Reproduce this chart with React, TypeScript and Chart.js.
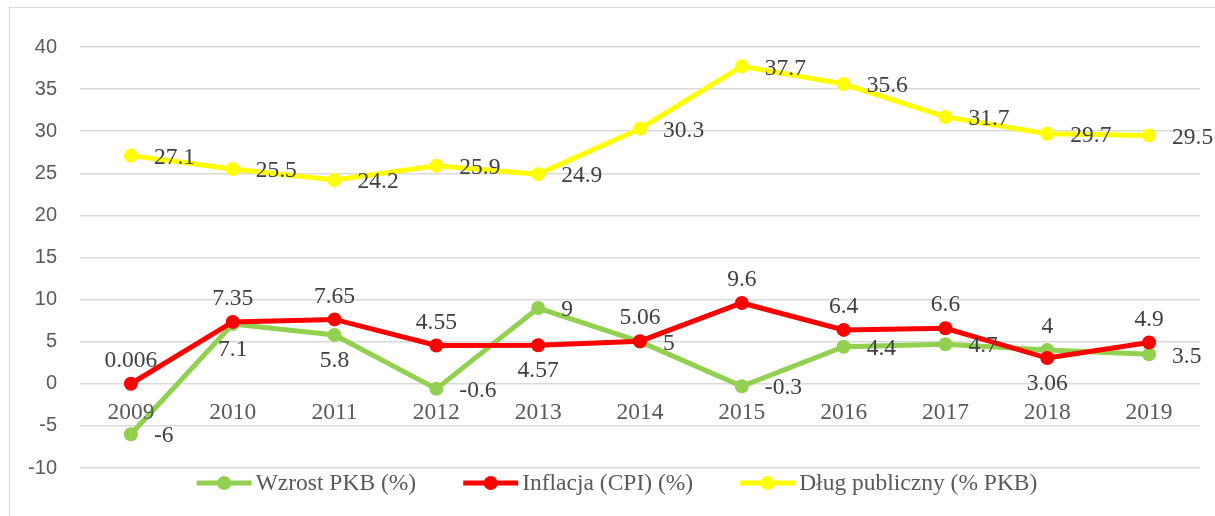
import React, { useEffect, useRef } from "react";
import { Chart, registerables } from "chart.js";
Chart.register(...registerables);

const years = ["2009", "2010", "2011", "2012", "2013", "2014", "2015", "2016", "2017", "2018", "2019"];
const gdpGrowth = [-6, 7.1, 5.8, -0.6, 9, 5, -0.3, 4.4, 4.7, 4, 3.5];
const inflation = [0.006, 7.35, 7.65, 4.55, 4.57, 5.06, 9.6, 6.4, 6.6, 3.06, 4.9];
const publicDebt = [27.1, 25.5, 24.2, 25.9, 24.9, 30.3, 37.7, 35.6, 31.7, 29.7, 29.5];
const seriesNames = ["Wzrost PKB (%)", "Inflacja (CPI) (%)", "Dług publiczny (% PKB)"];
const yMin = -10;
const yMax = 40;
const yStep = 5;
// label placement: r = right, a = above, b = below
const gdpLabelPos = ["r", "b", "b", "r", "r", "r", "r", "r", "r", "a", "r"];
const cpiLabelPos = ["a", "a", "a", "a", "b", "a", "a", "a", "a", "b", "a"];
const debtLabelPos = ["r", "r", "r", "r", "r", "r", "r", "r", "r", "r", "r"];

const COLORS = ["#92d050", "#ff0000", "#ffff00"];
const SERIF = '"Liberation Serif", "Times New Roman", serif';

export default function App() {
  const ref = useRef<HTMLCanvasElement | null>(null);
  useEffect(() => {
    if (!ref.current) return;
    const placements = [gdpLabelPos, cpiLabelPos, debtLabelPos];

    const decor = {
      id: "decor",
      beforeDraw(chart: any) {
        const ctx = chart.ctx;
        ctx.save();
        ctx.strokeStyle = "#d9d9d9";
        ctx.lineWidth = 1;
        ctx.strokeRect(9.5, 7.5, 1400, 700);
        ctx.restore();
      },
      afterDatasetsDraw(chart: any) {
        const ctx = chart.ctx;
        const xs = chart.scales.x;
        const ys = chart.scales.y;
        ctx.save();
        ctx.font = `23.5px ${SERIF}`;
        ctx.fillStyle = "#595959";
        ctx.textAlign = "center";
        ctx.textBaseline = "middle";
        const y0 = ys.getPixelForValue(0);
        years.forEach((yr, i) => {
          ctx.fillText(yr, xs.getPixelForValue(i), y0 + 29);
        });
        ctx.fillStyle = "#404040";
        chart.data.datasets.forEach((ds: any, di: number) => {
          ds.data.forEach((v: number, i: number) => {
            const px = xs.getPixelForValue(i);
            const py = ys.getPixelForValue(v);
            const pos = placements[di][i];
            const txt = String(v);
            if (pos === "r") {
              ctx.textAlign = "left";
              ctx.fillText(txt, px + 23, py + 2);
            } else if (pos === "a") {
              ctx.textAlign = "center";
              ctx.fillText(txt, px, py - 23);
            } else {
              ctx.textAlign = "center";
              ctx.fillText(txt, px, py + 26);
            }
          });
        });
        const lineLen = 55;
        const gapText = 4;
        const gapItem = 47;
        const widths = seriesNames.map((n) => ctx.measureText(n).width);
        const total = widths.reduce((a, w) => a + lineLen + gapText + w, 0) + gapItem * (seriesNames.length - 1);
        let x = 617 - total / 2;
        const ly = 483;
        seriesNames.forEach((n, i) => {
          ctx.strokeStyle = COLORS[i];
          ctx.lineWidth = 5;
          ctx.beginPath();
          ctx.moveTo(x, ly);
          ctx.lineTo(x + lineLen, ly);
          ctx.stroke();
          ctx.fillStyle = COLORS[i];
          ctx.beginPath();
          ctx.arc(x + lineLen / 2, ly, 7, 0, Math.PI * 2);
          ctx.fill();
          ctx.fillStyle = "#595959";
          ctx.textAlign = "left";
          ctx.fillText(n, x + lineLen + gapText, ly + 1);
          x += lineLen + gapText + widths[i] + gapItem;
        });
        ctx.restore();
      },
    };

    const mk = (label: string, data: number[], color: string, order: number) => ({
      label,
      data,
      borderColor: color,
      backgroundColor: color,
      borderWidth: 5,
      pointRadius: 7,
      pointBorderWidth: 0,
      pointBackgroundColor: color,
      tension: 0,
      order,
    });

    const chart = new Chart(ref.current, {
      type: "line",
      data: {
        labels: years,
        datasets: [
          mk(seriesNames[0], gdpGrowth, COLORS[0], 3),
          mk(seriesNames[1], inflation, COLORS[1], 2),
          mk(seriesNames[2], publicDebt, COLORS[2], 1),
        ],
      },
      options: {
        animation: false,
        responsive: true,
        maintainAspectRatio: false,
        layout: { padding: { left: 0, right: 15, top: 47, bottom: 48 } },
        plugins: { legend: { display: false }, tooltip: { enabled: false } },
        scales: {
          x: { type: "category", display: false, offset: true },
          y: {
            min: yMin,
            max: yMax,
            ticks: {
              stepSize: yStep,
              padding: 23,
              color: "#595959",
              font: { family: '"Liberation Sans", Arial, sans-serif', size: 20 },
            },
            grid: { color: "#d9d9d9", lineWidth: 1.5, drawTicks: false },
            border: { display: false },
            afterFit: (s: any) => {
              s.width = 80;
            },
          },
        },
      },
      plugins: [decor],
    } as any);
    return () => chart.destroy();
  }, []);

  return (
    <div style={{ position: "absolute", left: 0, top: 0, width: 1215, height: 516, background: "#fff" }}>
      <canvas ref={ref} />
    </div>
  );
}
